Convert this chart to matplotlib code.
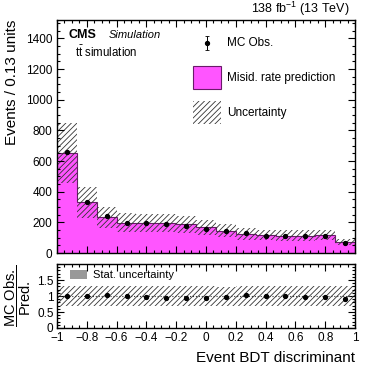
import numpy as np
import matplotlib
matplotlib.use("Agg")
import matplotlib.pyplot as plt
from matplotlib.patches import Rectangle
from matplotlib.ticker import MultipleLocator

plt.rcParams['font.family'] = ['Liberation Sans', 'DejaVu Sans']
plt.rcParams['mathtext.fontset'] = 'custom'
plt.rcParams['mathtext.rm'] = 'Liberation Sans'
plt.rcParams['mathtext.it'] = 'Liberation Sans:italic'
plt.rcParams['hatch.linewidth'] = 0.6

# binning of the event BDT discriminant
edges = np.linspace(-1, 1, 16)
centers = 0.5 * (edges[:-1] + edges[1:])

# values
pred = [650, 330, 232, 198, 196, 198, 187, 167, 145, 124, 117, 114, 113, 117, 70]
pred_unc = [196, 100, 70, 60, 59, 59, 56, 50, 43, 37, 35, 34, 34, 35, 21]
obs = [656, 330, 241, 198, 193, 189, 178, 156, 141, 130, 113, 111, 109, 113, 63]
obs_err = [8, 6, 5, 4, 4, 4, 4, 4, 4, 3, 3, 3, 3, 3, 3]
ratio = [1.00, 1.00, 1.02, 1.01, 0.98, 0.94, 0.95, 0.94, 0.98, 1.02, 0.99, 0.99, 0.96, 0.96, 0.92]
ratio_err = [0.01, 0.02, 0.02, 0.02, 0.02, 0.02, 0.02, 0.02, 0.03, 0.03, 0.03, 0.03, 0.03, 0.03, 0.04]

magenta = '#ff55ff'
hatch_col = '#333333'

fig = plt.figure(figsize=(3.74, 3.74), dpi=100)
ax = fig.add_axes([0.1524, 0.3235, 0.7968, 0.623])
rax = fig.add_axes([0.1524, 0.123, 0.7968, 0.171])

pred_a = np.array(pred, float)
unc_a = np.array(pred_unc, float)
up = np.append(pred_a + unc_a, (pred_a + unc_a)[-1])
lo = np.append(pred_a - unc_a, (pred_a - unc_a)[-1])
pstep = np.append(pred_a, pred_a[-1])

ax.fill_between(edges, 0, pstep, step='post', color=magenta, lw=0)
ax.stairs(pred_a, edges, color='#6a1a6a', lw=0.8, baseline=None)
ax.fill_between(edges, lo, up, step='post', facecolor='none', edgecolor=hatch_col,
                hatch='//////', lw=0)
ax.errorbar(centers, obs, yerr=obs_err, fmt='o', color='black', ms=2.8, elinewidth=0.7, capsize=0)

ax.set_xlim(-1, 1)
ax.set_ylim(0, 1520)
ax.set_ylabel('Events / 0.13 units', fontsize=11, loc='top')
ax.yaxis.set_label_coords(-0.128, 1.0)
ax.yaxis.set_major_locator(MultipleLocator(200))
ax.yaxis.set_minor_locator(MultipleLocator(50))

# texts
ax.text(0.04, 0.935, 'CMS', transform=ax.transAxes, fontsize=9, fontweight='bold', va='center')
ax.text(0.172, 0.937, 'Simulation', transform=ax.transAxes, fontsize=8, style='italic', va='center')
ax.text(0.06, 0.862, r't$\bar{\mathrm{t}}$ simulation', transform=ax.transAxes, fontsize=8.3, va='center')
ax.text(0.982, 1.008, r'138 fb$^{-1}$ (13 TeV)', transform=ax.transAxes, fontsize=9,
        ha='right', va='bottom')

# legend drawn by hand in axes fraction
ax.errorbar([0.505], [0.903], yerr=[[0.03], [0.03]], fmt='o', color='black', ms=2.8,
            elinewidth=0.7, capsize=1.5, capthick=0.6, transform=ax.transAxes, clip_on=False)
ax.text(0.57, 0.9, 'MC Obs.', transform=ax.transAxes, fontsize=8.5, va='center')
ax.add_patch(Rectangle((0.457, 0.702), 0.093, 0.1, transform=ax.transAxes,
                       facecolor=magenta, edgecolor='#6a1a6a', lw=0.8))
ax.text(0.57, 0.752, 'Misid. rate prediction', transform=ax.transAxes, fontsize=8.5, va='center')
ax.add_patch(Rectangle((0.457, 0.553), 0.093, 0.1, transform=ax.transAxes,
                       facecolor='none', edgecolor=hatch_col, hatch='//////', lw=0))
ax.text(0.57, 0.603, 'Uncertainty', transform=ax.transAxes, fontsize=8.5, va='center')

# ratio panel
rel = unc_a / pred_a
rup = np.append(1 + rel, 1 + rel[-1])
rlo = np.append(1 - rel, 1 - rel[-1])
rax.fill_between(edges, rlo, rup, step='post', facecolor='none', edgecolor=hatch_col,
                 hatch='//////', lw=0)
rax.axhline(1, color='#333333', lw=0.8, ls=':')
rax.errorbar(centers, ratio, yerr=ratio_err, fmt='o', color='black', ms=2.8, elinewidth=0.7, capsize=0)
rax.set_xlim(-1, 1)
rax.set_ylim(0, 2)
rax.yaxis.set_major_locator(MultipleLocator(0.5))
rax.yaxis.set_minor_locator(MultipleLocator(0.1))
rax.set_yticks([0, 0.5, 1, 1.5])
rax.set_yticklabels(['0', '0.5', '1', '1.5'])
rax.add_patch(Rectangle((0.045, 0.76), 0.057, 0.14, transform=rax.transAxes,
                        facecolor='#999999', edgecolor='none'))
rax.text(0.12, 0.83, 'Stat. uncertainty', transform=rax.transAxes, fontsize=8, va='center')
rax.set_ylabel(r'$\dfrac{\mathrm{MC\ Obs.}}{\mathrm{Pred.}}$', fontsize=10.5)
rax.yaxis.set_label_coords(-0.08, 0.5)
rax.set_xlabel('Event BDT discriminant', fontsize=11, loc='right')
rax.xaxis.set_label_coords(1.0, -0.36)

for a in (ax, rax):
    a.xaxis.set_major_locator(MultipleLocator(0.2))
    a.xaxis.set_minor_locator(MultipleLocator(0.05))
    a.tick_params(which='both', direction='in', top=True, right=True, labelsize=8.5, width=0.8)
    a.tick_params(which='major', length=5)
    a.tick_params(which='minor', length=2.5)
    for s in a.spines.values():
        s.set_linewidth(1.0)
ax.tick_params(labelbottom=False)
rax.set_xticks(np.round(np.arange(-1, 1.01, 0.2), 1))
rax.set_xticklabels(['\u22121', '\u22120.8', '\u22120.6', '\u22120.4', '\u22120.2', '0',
                     '0.2', '0.4', '0.6', '0.8', '1'])
rax.tick_params(axis='x', pad=2.8)
rax.tick_params(axis='y', pad=2.5)

fig.savefig('out.png', dpi=100)
